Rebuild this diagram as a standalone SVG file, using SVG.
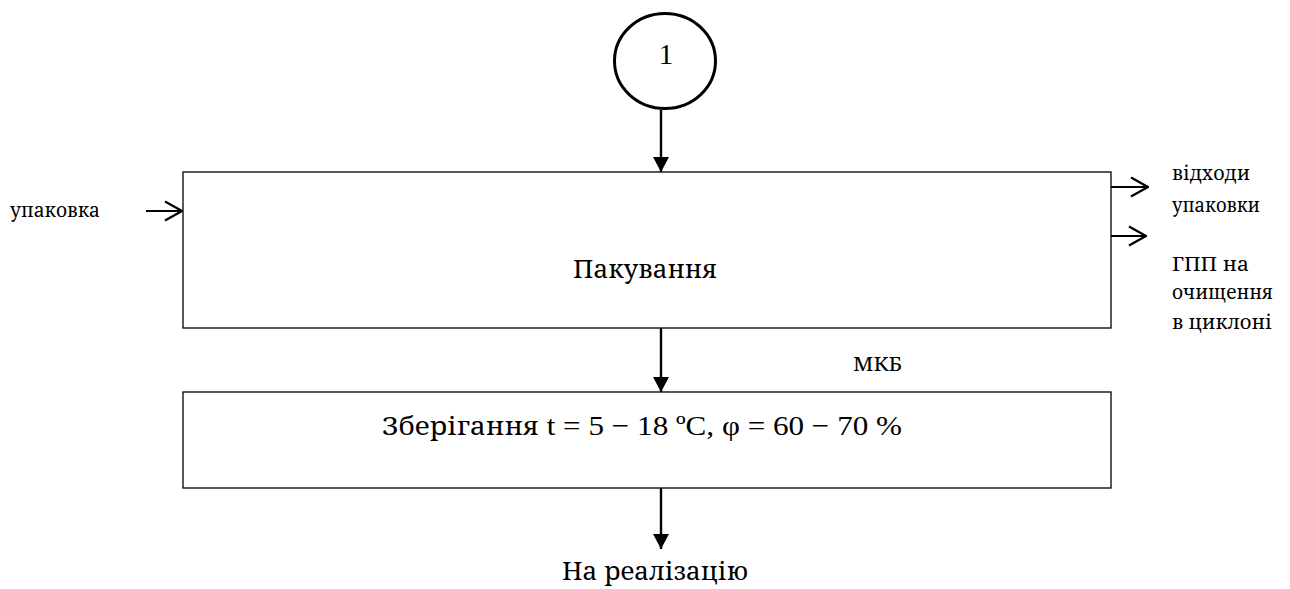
<svg xmlns="http://www.w3.org/2000/svg" width="1290" height="589" viewBox="0 0 1290 589">
<defs>
<marker id="tri" viewBox="0 0 15 16" refX="15" refY="8" markerWidth="15" markerHeight="16" markerUnits="userSpaceOnUse" orient="auto">
<path d="M0,0 L15,8 L0,16 Z" fill="#000"/>
</marker>
<marker id="open" viewBox="0 0 20 22" refX="19" refY="11" markerWidth="20" markerHeight="22" markerUnits="userSpaceOnUse" orient="auto">
<path d="M2,1.5 L19,11 L2,20.5" fill="none" stroke="#000" stroke-width="2.2"/>
</marker>
</defs>
<style>
text{font-family:'Liberation Serif','Noto Serif','DejaVu Serif',serif;fill:#000}
.cy{font-family:'Noto Serif','DejaVu Serif','Liberation Serif',serif}
.box{fill:#fff;stroke:#000;stroke-width:1.3}
.v{stroke:#000;stroke-width:2.4;fill:none}
.h{stroke:#000;stroke-width:2.2;fill:none}
.s{font-size:19px}
.m{font-size:28px}
.mc{font-size:25px}
</style>
<rect width="1290" height="589" fill="#fff"/>
<g id="connectors">
<line class="v" x1="661" y1="110" x2="661" y2="172" marker-end="url(#tri)"/>
<line class="v" x1="661" y1="328" x2="661" y2="392" marker-end="url(#tri)"/>
<line class="v" x1="661" y1="488" x2="661" y2="549" marker-end="url(#tri)"/>
<line class="h" x1="146" y1="211" x2="182" y2="211" marker-end="url(#open)"/>
<line class="h" x1="1111" y1="187" x2="1148" y2="187" marker-end="url(#open)"/>
<line class="h" x1="1111" y1="236" x2="1146" y2="236" marker-end="url(#open)"/>
</g>
<g id="node-1">
<ellipse cx="665" cy="61" rx="50.5" ry="47.5" fill="#fff" stroke="#000" stroke-width="3"/>
<text x="666" y="64" text-anchor="middle" font-size="29">1</text>
</g>
<g id="node-pakuvannia">
<rect class="box" x="183" y="172" width="928" height="156"/>
<text class="mc cy" x="573" y="278" textLength="144" lengthAdjust="spacingAndGlyphs">Пакування</text>
</g>
<g id="node-zberigannia">
<rect class="box" x="183" y="392" width="928" height="96"/>
<text class="m" x="382" y="435" textLength="520" lengthAdjust="spacingAndGlyphs"><tspan class="cy mc">Зберігання</tspan> t = 5 − 18 ºC, φ = 60 − 70 %</text>
</g>
<g id="labels">
<text class="s cy" x="10" y="217" textLength="90" lengthAdjust="spacingAndGlyphs">упаковка</text>
<text class="s cy" x="1172" y="180" textLength="78" lengthAdjust="spacingAndGlyphs">відходи</text>
<text class="s cy" x="1172" y="212" textLength="88" lengthAdjust="spacingAndGlyphs">упаковки</text>
<text class="s cy" x="1172" y="271" textLength="77" lengthAdjust="spacingAndGlyphs">ГПП на</text>
<text class="s cy" x="1172" y="299" textLength="101" lengthAdjust="spacingAndGlyphs">очищення</text>
<text class="s cy" x="1172" y="329" textLength="100" lengthAdjust="spacingAndGlyphs">в циклоні</text>
<text class="s cy" x="853" y="371" textLength="49" lengthAdjust="spacingAndGlyphs">МКБ</text>
<text class="mc cy" x="562" y="580" textLength="186" lengthAdjust="spacingAndGlyphs">На реалізацію</text>
</g>
</svg>
